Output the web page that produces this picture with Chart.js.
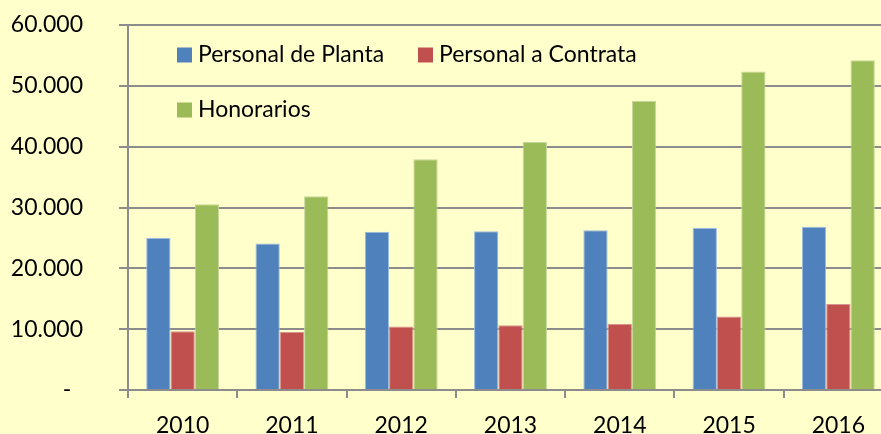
<!DOCTYPE html>
<html>
<head>
<meta charset="utf-8">
<script src="https://cdn.jsdelivr.net/npm/chart.js@4"></script>
<style>
  html, body { margin: 0; padding: 0; background: #FFFFCC; overflow: hidden; }
  #wrap { width: 893px; height: 434px; }
</style>
</head>
<body>
<div id="wrap"><canvas id="chart" width="893" height="434"></canvas></div>
<script>
// years on the x axis
const years = ['2010', '2011', '2012', '2013', '2014', '2015', '2016'];

// headcount per type of staff
const planta = [25000, 24100, 26000, 26100, 26250, 26650, 26850];
const contrata = [9650, 9550, 10450, 10650, 10900, 12100, 14150];
const honorarios = [30550, 31850, 37950, 40750, 47550, 52350, 54200];

// y axis range
const yMax = 60000;
const yStep = 10000;

const gridColor = '#8c8c8c';
const font = { family: 'Lato', size: 23 };

// thousands with a dot, zero shown as a dash
function fmt(v) {
  if (v === 0) return '-\u00a0\u00a0';
  return String(v).replace(/\B(?=(\d{3})+(?!\d))/g, '.');
}

// legend drawn inside the plot, two rows like the original
const legendInside = {
  id: 'legendInside',
  afterDraw(chart) {
    const ctx = chart.ctx;
    const a = chart.chartArea;
    const spots = [[49, 30], [290, 30], [49, 85]];
    ctx.save();
    ctx.font = font.size + 'px ' + font.family;
    ctx.textBaseline = 'middle';
    chart.data.datasets.forEach((ds, i) => {
      const x = a.left + spots[i][0];
      const y = a.top + spots[i][1];
      ctx.fillStyle = ds.backgroundColor;
      ctx.fillRect(x, y - 7.5, 15, 15);
      ctx.fillStyle = '#000';
      ctx.fillText(ds.label, x + 21, y);
    });
    ctx.restore();
  }
};

const data = {
  labels: years,
  datasets: [
    { label: 'Personal de Planta', data: planta, backgroundColor: '#4F81BD', borderColor: '#9DBBDF' },
    { label: 'Personal a Contrata', data: contrata, backgroundColor: '#C0504D', borderColor: '#D99593' },
    { label: 'Honorarios', data: honorarios, backgroundColor: '#9BBB59', borderColor: '#C3D89A' }
  ]
};

const chart = new Chart(document.getElementById('chart'), {
  type: 'bar',
  data: data,
  plugins: [legendInside],
  options: {
    responsive: false,
    animation: false,
    devicePixelRatio: 1,
    layout: { padding: { top: 25, left: 0, right: 0, bottom: 0 } },
    datasets: {
      bar: { categoryPercentage: 0.667, barPercentage: 1.0, borderWidth: { top: 1, left: 1, right: 1, bottom: 0 } }
    },
    plugins: {
      legend: { display: false },
      tooltip: { enabled: false }
    },
    scales: {
      x: {
        offset: true,
        grid: { drawOnChartArea: false, drawTicks: true, tickLength: 8, color: gridColor, lineWidth: 2, offset: true },
        border: { display: true, color: gridColor, width: 2 },
        ticks: { color: '#000', font: font, padding: 14, maxRotation: 0 },
        afterFit(s) { s.height = 44; }
      },
      y: {
        min: 0,
        max: yMax,
        ticks: { stepSize: yStep, color: '#000', font: font, padding: 36, callback: v => fmt(v) },
        grid: { color: gridColor, lineWidth: 2, tickLength: 9 },
        border: { display: true, color: gridColor, width: 2 },
        afterFit(s) {
          s.width = 128;
          s.paddingTop = 0;
          s.paddingBottom = 0;
        }
      }
    }
  }
});
</script>
</body>
</html>
